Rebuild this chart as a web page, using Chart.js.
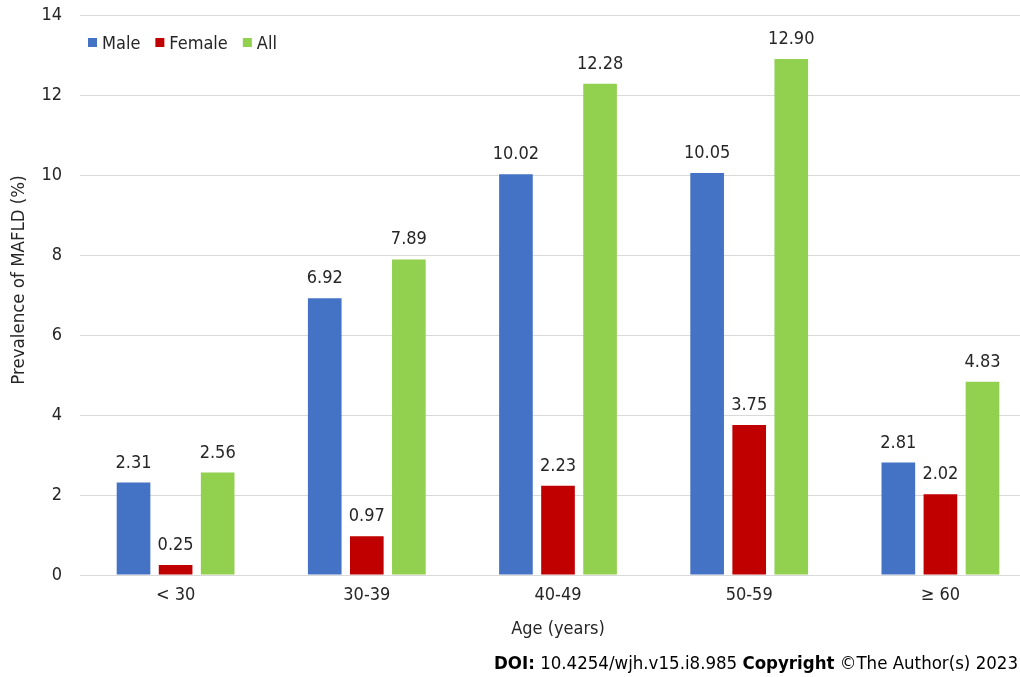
<!DOCTYPE html>
<html>
<head>
<meta charset="utf-8">
<title>Prevalence of MAFLD by age</title>
<script src="https://cdn.jsdelivr.net/npm/chart.js@4.4.1/dist/chart.umd.min.js"></script>
<style>
  html, body { margin: 0; padding: 0; background: #ffffff; overflow: hidden; }
  #wrap { position: relative; width: 1036px; height: 677px; }
</style>
</head>
<body>
<div id="wrap"><canvas id="chart"></canvas></div>
<script>
// Age groups and prevalence (%) per group
const categories = ['< 30', '30-39', '40-49', '50-59', '\u2265 60'];
const maleValues = [2.31, 6.92, 10.02, 10.05, 2.81];
const femaleValues = [0.25, 0.97, 2.23, 3.75, 2.02];
const allValues = [2.56, 7.89, 12.28, 12.90, 4.83];
const seriesNames = ['Male', 'Female', 'All'];
const yMin = 0, yMax = 14, yStep = 2;
const yTitle = 'Prevalence of MAFLD (%)';

const FONT = "'DejaVu Sans Condensed', 'DejaVu Sans', sans-serif";
const TEXT = '#262626';
const colors = ['#4472C4', '#C00000', '#92D050'];

// Value labels above each bar
const valueLabels = {
  id: 'valueLabels',
  afterDatasetsDraw(chart) {
    const ctx = chart.ctx;
    ctx.save();
    ctx.font = '18px ' + FONT;
    ctx.fillStyle = TEXT;
    ctx.textAlign = 'center';
    ctx.textBaseline = 'alphabetic';
    chart.data.datasets.forEach((ds, i) => {
      chart.getDatasetMeta(i).data.forEach((bar, j) => {
        ctx.fillText(ds.data[j].toFixed(2), bar.x, bar.y - 15);
      });
    });
    ctx.restore();
  }
};

// Legend row inside the plot, top-left, plus the rotated y-axis title
const insideLegend = {
  id: 'insideLegend',
  afterDraw(chart) {
    const ctx = chart.ctx;
    ctx.save();
    ctx.font = '18px ' + FONT;
    ctx.textBaseline = 'alphabetic';
    ctx.textAlign = 'left';
    let x = 88;
    chart.data.datasets.forEach(ds => {
      ctx.fillStyle = ds.backgroundColor;
      ctx.fillRect(x, 38, 9, 9);
      ctx.fillStyle = TEXT;
      ctx.fillText(ds.label, x + 14, 48.5);
      x += 14 + ctx.measureText(ds.label).width + 15;
    });

    ctx.translate(19, 280);
    ctx.rotate(-Math.PI / 2);
    ctx.textAlign = 'center';
    ctx.textBaseline = 'middle';
    ctx.font = '18.5px ' + FONT;
    ctx.fillText(yTitle, 0, 0);
    ctx.restore();
  }
};

// Citation line in the bottom-right corner
const citation = {
  id: 'citation',
  afterDraw(chart) {
    const ctx = chart.ctx;
    const parts = [
      ['DOI:', true], [' 10.4254/wjh.v15.i8.985 ', false],
      ['Copyright', true], [' \u00A9The Author(s) 2023', false]
    ];
    ctx.save();
    ctx.textBaseline = 'alphabetic';
    ctx.textAlign = 'left';
    ctx.fillStyle = '#000000';
    const fontOf = b => (b ? 'bold ' : '') + '18.5px ' + FONT;
    let total = 0;
    parts.forEach(([t, b]) => { ctx.font = fontOf(b); total += ctx.measureText(t).width; });
    let x = 1018 - total;
    parts.forEach(([t, b]) => {
      ctx.font = fontOf(b);
      ctx.fillText(t, x, 669);
      x += ctx.measureText(t).width;
    });
    ctx.restore();
  }
};

const seriesValues = [maleValues, femaleValues, allValues];

new Chart(document.getElementById('chart'), {
  type: 'bar',
  data: {
    labels: categories,
    datasets: seriesNames.map((name, i) => ({
      label: name,
      data: seriesValues[i],
      backgroundColor: colors[i],
      borderWidth: 0,
      barPercentage: 0.8,
      categoryPercentage: 0.66
    }))
  },
  options: {
    responsive: true,
    maintainAspectRatio: false,
    animation: false,
    layout: { padding: { top: 15, right: 0, bottom: 35, left: 0 } },
    plugins: {
      legend: { display: false },
      tooltip: { enabled: false }
    },
    scales: {
      x: {
        grid: { display: false, drawTicks: false },
        border: { display: false },
        ticks: { color: TEXT, font: { family: FONT, size: 18 }, padding: 10, maxRotation: 0 },
        title: {
          display: true, text: 'Age (years)', color: TEXT,
          font: { family: FONT, size: 18 }, padding: { top: 0, bottom: 2 }
        },
        afterFit(scale) { scale.height = 67; scale.paddingLeft = 0; scale.paddingRight = 0; }
      },
      y: {
        min: yMin, max: yMax,
        ticks: { stepSize: yStep, color: TEXT, font: { family: FONT, size: 18 }, padding: 18 },
        grid: { color: '#d9d9d9', lineWidth: 1, drawTicks: false },
        border: { display: false },
        afterFit(scale) { scale.width = 80; scale.paddingTop = 0; scale.paddingBottom = 0; }
      }
    }
  },
  plugins: [valueLabels, insideLegend, citation]
});
</script>
</body>
</html>
